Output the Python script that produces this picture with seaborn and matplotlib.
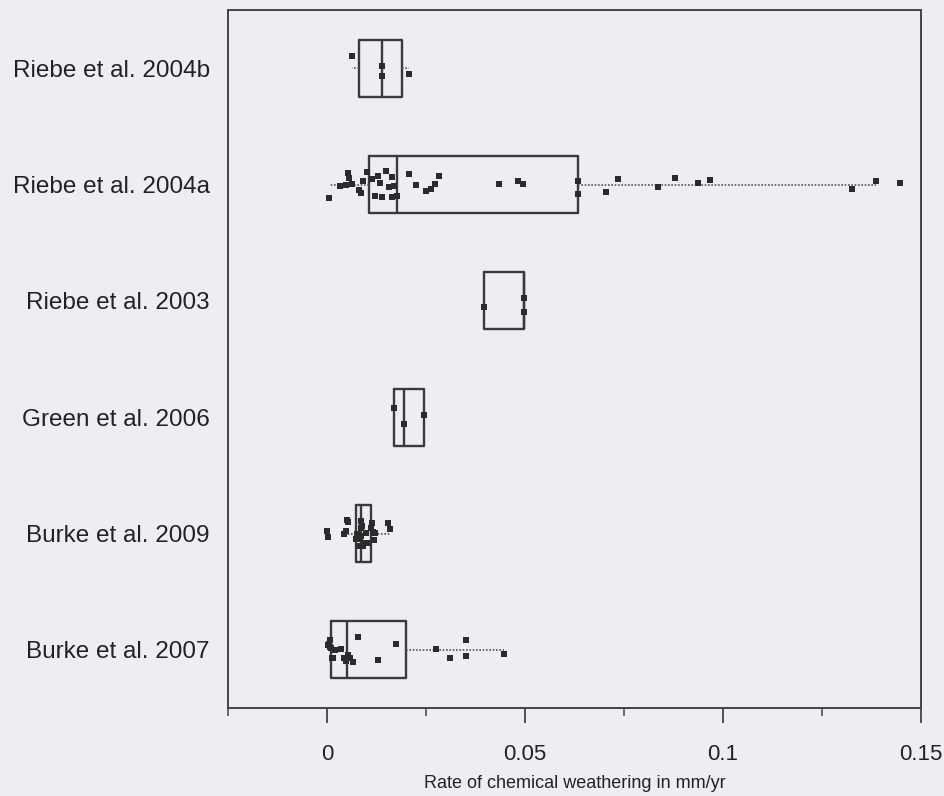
import numpy as np
import pandas as pd
import seaborn as sns
import matplotlib.pyplot as plt
from matplotlib.ticker import FixedLocator

# ---- data (mm/yr) ----
studies = ["Riebe et al. 2004b", "Riebe et al. 2004a", "Riebe et al. 2003",
           "Green et al. 2006", "Burke et al. 2009", "Burke et al. 2007"]

riebe_2004b = [0.0063, 0.0138, 0.0138, 0.0206]
riebe_2004a = [0.0005, 0.0033, 0.0048, 0.0052, 0.0056, 0.0062, 0.0080, 0.0085,
               0.0090, 0.0100, 0.0113, 0.0120, 0.0128, 0.0135, 0.0140, 0.0150,
               0.0156, 0.0163, 0.0165, 0.0170, 0.0178, 0.0206, 0.0226, 0.0250,
               0.0262, 0.0272, 0.0284, 0.0434, 0.0482, 0.0494, 0.0635, 0.0635,
               0.0705, 0.0735, 0.0836, 0.0878, 0.0936, 0.0966, 0.1327, 0.1386,
               0.1448]
riebe_2003 = [0.0396, 0.0497, 0.0497]
green_2006 = [0.0170, 0.0195, 0.0245]
burke_2009 = [0.0000, 0.0003, 0.0043, 0.0047, 0.0050, 0.0053, 0.0073, 0.0075,
              0.0078, 0.0080, 0.0083, 0.0085, 0.0085, 0.0086, 0.0088, 0.0090,
              0.0092, 0.0095, 0.0098, 0.0102, 0.0113, 0.0112, 0.0115, 0.0118,
              0.0120, 0.0153, 0.0158]
burke_2007 = [0.0003, 0.0005, 0.0007, 0.0008, 0.0009, 0.0012, 0.0015, 0.0020,
              0.0035, 0.0043, 0.0048, 0.0052, 0.0058, 0.0065, 0.0078, 0.0130,
              0.0173, 0.0274, 0.0310, 0.0350, 0.0352, 0.0447]

series = [riebe_2004b, riebe_2004a, riebe_2003, green_2006, burke_2009, burke_2007]

major_ticks = [0, 0.05, 0.1, 0.15]
major_labels = ["0", "0.05", "0.1", "0.15"]
minor_ticks = [-0.025, 0.025, 0.075, 0.125]
x_label = "Rate of chemical weathering in mm/yr"

# ---- style ----
sns.set_theme(style="white")
plt.rcParams['font.family'] = ['Liberation Sans', 'DejaVu Sans']

bg = '#eceef3'

fig = plt.figure(figsize=(9.45, 7.96), dpi=100, facecolor=bg)
ax = fig.add_axes([228 / 945, 1 - 708 / 796, (921 - 228) / 945, (708 - 10) / 796])
ax.set_facecolor(bg)

df = pd.DataFrame({
    "study": np.repeat(studies, [len(s) for s in series]),
    "rate": np.concatenate([np.asarray(s, float) for s in series]),
})

# points (jittered strip)
np.random.seed(7)
sns.stripplot(data=df, x="rate", y="study", order=studies, jitter=0.12,
              marker="s", size=4, color="#2b2b2b", linewidth=0, ax=ax, zorder=3)

# boxes: hinges by weighted-average (n+1)p method, whiskers at 1.5 IQR
stats = []
for vals in series:
    v = np.sort(np.asarray(vals, float))
    q1, med, q3 = np.percentile(v, [25, 50, 75], method="weibull")
    iqr = q3 - q1
    lo = v[v >= q1 - 1.5 * iqr].min()
    hi = v[v <= q3 + 1.5 * iqr].max()
    stats.append(dict(med=med, q1=q1, q3=q3, whislo=lo, whishi=hi, fliers=[]))

ax.bxp(stats, positions=range(len(studies)), widths=0.49,
       orientation="horizontal", showfliers=False, showcaps=False,
       manage_ticks=False,
       boxprops=dict(color="#3a3a3a", linewidth=1.7),
       medianprops=dict(color="#3a3a3a", linewidth=1.7),
       whiskerprops=dict(color="#555555", linewidth=1.2, linestyle=(0, (1, 1))))

ax.set_xlim(-0.025, 0.15)
ax.set_ylim(len(studies) - 0.5, -0.5)

ax.xaxis.set_major_locator(FixedLocator(major_ticks))
ax.set_xticklabels(major_labels)
ax.xaxis.set_minor_locator(FixedLocator(minor_ticks))
ax.tick_params(axis="x", which="major", direction="out", length=11, width=1.3,
               color="#444444", labelsize=16, pad=15, labelcolor="#222222",
               bottom=True)
ax.tick_params(axis="x", which="minor", direction="out", length=6, width=1.1,
               color="#444444", bottom=True)
ax.tick_params(axis="y", length=0, labelsize=17.5, pad=13, labelcolor="#222222")

ax.set_ylabel("")
ax.set_xlabel(x_label, fontsize=13, labelpad=7, color="#222222")

for s in ax.spines.values():
    s.set_color("#444444")
    s.set_linewidth(1.4)

fig.savefig("out.png", dpi=100, facecolor=bg)
